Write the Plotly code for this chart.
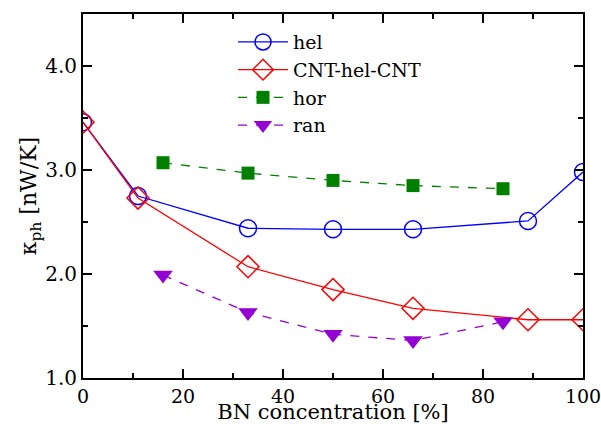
import plotly.graph_objects as go

hel_x = [0, 11, 33, 50, 66, 89, 100]
hel_y = [3.46, 2.75, 2.44, 2.43, 2.43, 2.51, 2.98]
cnt_x = [0, 11, 33, 50, 66, 89, 100]
cnt_y = [3.46, 2.73, 2.07, 1.85, 1.67, 1.56, 1.56]
hor_x = [16, 33, 50, 66, 84]
hor_y = [3.07, 2.97, 2.90, 2.85, 2.82]
ran_x = [16, 33, 50, 66, 84]
ran_y = [1.99, 1.63, 1.42, 1.36, 1.54]

FONT = "DejaVu Serif"

fig = go.Figure()
fig.add_trace(go.Scatter(x=hel_x, y=hel_y, name="hel", mode="lines+markers",
    line=dict(color="#0000ff", width=1.3),
    marker=dict(symbol="circle-open", size=17, color="#0000ff", line=dict(width=1.5))))
fig.add_trace(go.Scatter(x=cnt_x, y=cnt_y, name="CNT-hel-CNT", mode="lines+markers",
    line=dict(color="#ff0000", width=1.3),
    marker=dict(symbol="diamond-open", size=17, color="#ff0000", line=dict(width=1.5))))
fig.add_trace(go.Scatter(x=hor_x, y=hor_y, name="hor", mode="lines+markers",
    line=dict(color="#008000", width=1.3, dash="dash"),
    marker=dict(symbol="square", size=13, color="#008000")))
fig.add_trace(go.Scatter(x=ran_x, y=ran_y, name="ran", mode="lines+markers",
    line=dict(color="#9400d3", width=1.3, dash="dash"),
    marker=dict(symbol="triangle-down", size=17, color="#9400d3")))

axis_common = dict(showline=True, linecolor="black", linewidth=2, mirror="ticks",
    ticks="inside", ticklen=9, tickwidth=1.5, tickcolor="black",
    showgrid=False, zeroline=False, automargin=False,
    ticklabeloverflow="allow")

fig.update_xaxes(range=[0, 100], dtick=20, tick0=0,
    minor=dict(dtick=10, ticks="inside", ticklen=5, tickwidth=1.5, tickcolor="black"),
    tickfont=dict(family=FONT, size=19, color="black"),
    title=dict(text="BN concentration [%]", font=dict(family=FONT, size=21, color="black"), standoff=0),
    **axis_common)
fig.update_yaxes(range=[1.0, 4.5], dtick=1.0, tick0=1.0, tickformat=".1f",
    minor=dict(dtick=0.5, ticks="inside", ticklen=5, tickwidth=1.5, tickcolor="black"),
    tickfont=dict(family=FONT, size=20, color="black"),
    title=dict(text="κ<sub>ph</sub> [nW/K]", font=dict(family=FONT, size=22, color="black"), standoff=2),
    **axis_common)

fig.update_layout(
    width=601, height=424,
    margin=dict(l=83, r=18, t=14, b=46),
    paper_bgcolor="white", plot_bgcolor="white",
    font=dict(family=FONT, color="black"),
    legend=dict(x=0.3, y=0.975, xanchor="left", yanchor="top",
        bgcolor="rgba(0,0,0,0)", font=dict(family=FONT, size=19, color="black"),
        itemwidth=50, tracegroupgap=0),
    showlegend=True,
)

fig.write_html("out.html")
